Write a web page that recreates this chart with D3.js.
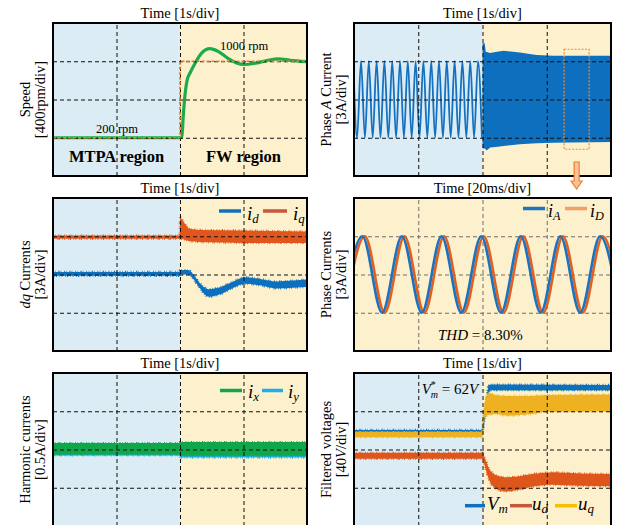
<!DOCTYPE html>
<html>
<head>
<meta charset="utf-8">
<script src="https://cdn.jsdelivr.net/npm/d3@7"></script>
<style>
body { margin: 0; background: #fff; }
svg { display: block; font-family: "Liberation Serif", "Times New Roman", serif; }
</style>
</head>
<body>
<script>
// ---- speed panel (rpm vs s)
const speedT   = [0, 2.0, 2.03, 2.05, 2.08, 2.115, 2.16, 2.24, 2.34, 2.47, 2.60, 2.76, 2.89, 3.02, 3.18, 3.37, 3.55, 3.73, 4.0];
const speedRpm = [200, 200, 204, 416, 657, 812, 880, 982, 1085, 1131, 1103, 1028, 982, 966, 979, 1007, 1024, 1010, 997];
const speedRefT   = [0, 2, 2, 4];
const speedRefRpm = [200, 200, 1000, 1000];

// ---- phase A current: extrema of the slow sinusoid, then the envelope of the fast part
const phaseAT = [-0.012, 0.048, 0.109, 0.170, 0.230, 0.291, 0.352, 0.412, 0.473, 0.534, 0.595, 0.655,
                 0.716, 0.777, 0.837, 0.898, 0.959, 1.019, 1.080, 1.141, 1.202, 1.262, 1.323, 1.384,
                 1.444, 1.505, 1.566, 1.626, 1.687, 1.748, 1.809, 1.869, 1.930, 1.991];
const phaseAV = [3, -3, 3, -3, 3, -3, 3, -3, 3, -3, 3, -3, 3, -3, 3, -3, 3, -3,
                 3, -3, 3, -3, 3, -3, 3, -3, 3, -3, 3, -3, 3, -3, 3, -3];
const phaseBandT  = [2.0, 2.01, 2.035, 2.05, 2.065, 2.12, 2.2, 2.33, 2.58, 2.84, 3.1, 3.36, 4.0];
const phaseBandHi = [4.42, 4.42, 4.42, 3.75, 3.72, 3.64, 3.72, 3.82, 3.69, 3.5, 3.43, 3.43, 3.43];
const phaseBandLo = [-3.8, -3.85, -3.85, -3.9, -4.0, -3.77, -3.72, -3.64, -3.5, -3.43, -3.4, -3.38, -3.33];
const zoomWinT = [3.27, 3.66];
const zoomWinA = [-3.9, 3.94];

// ---- dq currents (A)
const idT  = [0, 1.995, 2.0, 2.13, 2.2, 2.3, 2.45, 2.63, 2.84, 3.02, 3.26, 3.52, 3.78, 4.0];
const idHi = [0.2, 0.2, 0.35, 0.35, 0.05, -0.6, -1.15, -1.0, -0.55, -0.22, -0.35, -0.55, -0.48, -0.4];
const idLo = [-0.1, -0.1, 0.0, 0.0, -0.3, -1.0, -1.75, -1.55, -1.03, -0.72, -0.85, -1.1, -1.03, -0.98];
const iqT  = [0, 1.995, 2.0, 2.06, 2.14, 2.3, 3.0, 4.0];
const iqHi = [3.05, 3.05, 4.55, 4.1, 3.58, 3.5, 3.45, 3.37];
const iqLo = [2.8, 2.8, 2.8, 2.74, 2.62, 2.54, 2.48, 2.48];

// ---- phase currents zoom (ms, A): extrema
const iAT = [-3.6, 2.6, 8.75, 14.9, 21.1, 27.25, 33.4, 39.6, 45.75, 51.9, 58.1, 64.25, 70.4, 76.6, 82.75];
const iDT = [-2.8, 3.4, 9.55, 15.7, 21.9, 28.05, 34.2, 40.4, 46.55, 52.7, 58.9, 65.05, 71.2, 77.4, 83.55];
const iExtV = [-3, 3, -3, 3, -3, 3, -3, 3, -3, 3, -3, 3, -3, 3, -3];

// ---- harmonic currents (A)
const harmT = [0, 1.995, 2.0, 4.0];
const ixHi = [0.085, 0.085, 0.098, 0.098];
const ixLo = [-0.064, -0.064, -0.082, -0.082];
const iyHi = [0.075, 0.075, 0.085, 0.085];
const iyLo = [-0.077, -0.077, -0.105, -0.105];

// ---- filtered voltages (V)
const vmT  = [0, 1.995, 2.0, 2.02, 2.09, 2.12, 4.0];
const vmHi = [20.5, 20.5, 20, 32, 67, 68, 67.5];
const vmLo = [18.5, 18.5, 17, 25, 59, 62, 62];
const uqT  = [0, 1.995, 2.0, 2.01, 2.09, 2.2, 2.38, 2.75, 3.0, 4.0];
const uqHi = [18.2, 18.2, 18.2, 35, 59, 57, 56, 56, 57, 57.5];
const uqLo = [12.8, 12.8, 12.8, 30, 36, 37, 35.3, 37, 39.5, 40];
const udT  = [0, 1.995, 2.0, 2.05, 2.1, 2.2, 2.35, 2.5, 2.8, 3.1, 3.5, 4.0];
const udHi = [-3.4, -3.4, -3.4, -11.5, -19.5, -26.5, -29.1, -28.5, -25.3, -23.9, -25, -25.5];
const udLo = [-9.8, -9.8, -9.8, -21, -31.5, -40.5, -43.8, -43, -38.5, -36.8, -38, -38.5];
const vmRef = 62;

const width = 620, height = 525;
const bgBlue = '#dbecf4', bgYellow = '#fdf0cc';
const svg = d3.select('body').append('svg').attr('width', width).attr('height', height);
let clipN = 0;

function makePanel(p) {
    const g = svg.append('g').attr('transform', `translate(${p.left},${p.top})`);
    const x = d3.scaleLinear().domain(p.xDomain).range([0, p.w]);
    const y = d3.scaleLinear().domain(p.yDomain).range([p.h, 0]);
    if (p.split !== undefined) {
        g.append('rect').attr('width', x(p.split)).attr('height', p.h).attr('fill', bgBlue);
        g.append('rect').attr('x', x(p.split)).attr('width', p.w - x(p.split)).attr('height', p.h).attr('fill', bgYellow);
    } else {
        g.append('rect').attr('width', p.w).attr('height', p.h).attr('fill', bgYellow);
    }
    const id = 'clip' + (clipN++);
    g.append('clipPath').attr('id', id).append('rect').attr('width', p.w).attr('height', p.h);
    const plot = g.append('g').attr('clip-path', `url(#${id})`);

    g.append('text').attr('x', p.w / 2).attr('y', -5.5).attr('text-anchor', 'middle')
        .attr('font-size', 14.5).text(p.title);

    // two-line rotated y label, each line is a list of [text, italic]
    p.ylab.forEach(function(parts, i) {
        const t = g.append('text')
            .attr('transform', `translate(${i === 0 ? -23.5 : -8.5},${p.h / 2}) rotate(-90)`)
            .attr('text-anchor', 'middle').attr('font-size', 14.5);
        parts.forEach(function(pt) {
            t.append('tspan').attr('font-style', pt[1] ? 'italic' : null).text(pt[0]);
        });
    });
    return {g: g, plot: plot, x: x, y: y, p: p};
}

function grid(P, color) {
    const p = P.p;
    const xt = d3.range(p.xDomain[0] + p.xDiv, p.xDomain[1] - 1e-9, p.xDiv);
    const yt = d3.range(p.yDomain[0] + p.yDiv, p.yDomain[1] - 1e-9, p.yDiv);
    const style = function(s) {
        s.select('.domain').remove();
        s.selectAll('line').attr('stroke', color).attr('stroke-width', 1).attr('stroke-dasharray', '4,3');
    };
    P.plot.append('g').attr('transform', `translate(0,${p.h})`)
        .call(d3.axisBottom(P.x).tickValues(xt).tickSize(-p.h).tickFormat('')).call(style);
    P.plot.append('g')
        .call(d3.axisLeft(P.y).tickValues(yt).tickSize(-p.w).tickFormat('')).call(style);
}

function border(P) {
    P.g.append('rect').attr('width', P.p.w).attr('height', P.p.h)
        .attr('fill', 'none').attr('stroke', '#000').attr('stroke-width', 2);
}

// noisy band: filled envelope with a ragged outline of the same colour
function band(P, T, hi, lo, color, curve, ragged) {
    const data = T.map(function(t, i) { return {t: t, hi: hi[i], lo: lo[i]}; });
    const area = d3.area().x(d => P.x(d.t)).y0(d => P.y(d.lo)).y1(d => P.y(d.hi)).curve(curve || d3.curveLinear);
    P.plot.append('path').datum(data).attr('d', area).attr('fill', color);
    if (ragged !== false) {
        P.plot.append('path').datum(data).attr('d', area).attr('fill', 'none')
            .attr('stroke', color).attr('stroke-width', 2.2)
            .attr('stroke-dasharray', '0.8,1.6,0.5,2.4,1.2,1.1,0.6,2.9');
    }
}

function trace(P, T, V, color, w, curve, dash) {
    const data = T.map(function(t, i) { return [t, V[i]]; });
    P.plot.append('path').datum(data)
        .attr('d', d3.line().x(d => P.x(d[0])).y(d => P.y(d[1])).curve(curve || d3.curveLinear))
        .attr('fill', 'none').attr('stroke', color).attr('stroke-width', w)
        .attr('stroke-dasharray', dash || null).attr('stroke-linejoin', 'round');
}

// legend entry: line then italic symbol with subscript
function legend(P, x0, x1, ly, tx, ty, sym, sub, color, fs) {
    P.g.append('line').attr('x1', x0).attr('x2', x1).attr('y1', ly).attr('y2', ly)
        .attr('stroke', color).attr('stroke-width', 3.5);
    const t = P.g.append('text').attr('x', tx).attr('y', ty).attr('font-size', fs).attr('font-style', 'italic');
    t.append('tspan').text(sym);
    t.append('tspan').attr('font-size', fs * 0.68).attr('dy', 3).text(sub);
}

const blue = '#0d6fbd', orange = '#e0561c', green = '#1aab4a';

// ---------- panel 1: speed
const P1 = makePanel({left: 53, top: 23, w: 254, h: 153, xDomain: [0, 4], xDiv: 1, yDomain: [-200, 1400], yDiv: 400,
    split: 2, title: 'Time [1s/div]', ylab: [[['Speed', 0]], [['[400rpm/div]', 0]]]});
trace(P1, speedT, speedRpm, green, 3.2, d3.curveMonotoneX);
grid(P1, '#111');
trace(P1, speedRefT, speedRefRpm, '#f07a1a', 1.6, d3.curveLinear, '3,2');
P1.g.append('text').attr('x', 43).attr('y', 110).attr('font-size', 12.5).text('200 rpm');
P1.g.append('text').attr('x', 167).attr('y', 26.5).attr('font-size', 12.5).text('1000 rpm');
P1.g.append('text').attr('x', P1.x(1)).attr('y', 138.7).attr('text-anchor', 'middle')
    .attr('font-size', 16.5).attr('font-weight', 'bold').text('MTPA region');
P1.g.append('text').attr('x', P1.x(3)).attr('y', 138.7).attr('text-anchor', 'middle')
    .attr('font-size', 16.5).attr('font-weight', 'bold').text('FW region');
border(P1);

// ---------- panel 2: phase A current
const P2 = makePanel({left: 354, top: 23, w: 257, h: 153, xDomain: [0, 4], xDiv: 1, yDomain: [-6, 6], yDiv: 3,
    split: 2, title: 'Time [1s/div]', ylab: [[['Phase ', 0], ['A', 1], [' Current', 0]], [['[3A/div]', 0]]]});
trace(P2, phaseAT, phaseAV, '#1470c0', 1.8, d3.curveMonotoneX);
band(P2, phaseBandT, phaseBandHi, phaseBandLo, blue, d3.curveLinear, false);
grid(P2, '#111');
P2.g.append('rect')
    .attr('x', P2.x(zoomWinT[0])).attr('y', P2.y(zoomWinA[1]))
    .attr('width', P2.x(zoomWinT[1]) - P2.x(zoomWinT[0])).attr('height', P2.y(zoomWinA[0]) - P2.y(zoomWinA[1]))
    .attr('fill', 'none').attr('stroke', '#f08a30').attr('stroke-width', 1.2).attr('stroke-dasharray', '2,1.5');
border(P2);
// arrow pointing to the zoomed panel
const ax = P2.x((zoomWinT[0] + zoomWinT[1]) / 2);
P2.g.append('path')
    .attr('d', `M${ax - 2.5},139 L${ax + 2.5},139 L${ax + 2.5},158 L${ax + 5.5},158 L${ax},166 L${ax - 5.5},158 L${ax - 2.5},158 Z`)
    .attr('fill', '#f9c49c').attr('stroke', '#ee7d2c').attr('stroke-width', 1.2);

// ---------- panel 3: dq currents
const P3 = makePanel({left: 53, top: 198, w: 254, h: 153, xDomain: [0, 4], xDiv: 1, yDomain: [-6, 6], yDiv: 3,
    split: 2, title: 'Time [1s/div]', ylab: [[['dq', 1], [' Currents', 0]], [['[3A/div]', 0]]]});
band(P3, iqT, iqHi, iqLo, orange);
band(P3, idT, idHi, idLo, '#0c70bf', d3.curveMonotoneX);
grid(P3, '#111');
legend(P3, 166, 188, 13, 194, 22, 'i', 'd', '#1170bd', 19);
legend(P3, 210, 234, 13, 240, 22, 'i', 'q', '#c9553a', 19);
border(P3);

// ---------- panel 4: phase currents zoom
const P4 = makePanel({left: 354, top: 198, w: 257, h: 153, xDomain: [0, 80], xDiv: 20, yDomain: [-6, 6], yDiv: 3,
    title: 'Time [20ms/div]', ylab: [[['Phase Currents', 0]], [['[3A/div]', 0]]]});
grid(P4, '#6e6e6e');
trace(P4, iDT, iExtV, '#e35f1e', 2.6, d3.curveMonotoneX);
trace(P4, iAT, iExtV, '#1a72c0', 2.6, d3.curveMonotoneX);
legend(P4, 169, 191, 10.5, 194, 19, 'i', 'A', '#1f73c0', 18);
legend(P4, 211, 233, 10.5, 236, 19, 'i', 'D', '#f3a066', 18);
const thd = P4.g.append('text').attr('x', 84).attr('y', 142).attr('font-size', 15);
thd.append('tspan').attr('font-style', 'italic').text('THD');
thd.append('tspan').text(' = 8.30%');
border(P4);

// ---------- panel 5: harmonic currents
const P5 = makePanel({left: 53, top: 373, w: 254, h: 153, xDomain: [0, 4], xDiv: 1, yDomain: [-1, 1], yDiv: 0.5,
    split: 2, title: 'Time [1s/div]', ylab: [[['Harmonic currents', 0]], [['[0.5A/div]', 0]]]});
band(P5, harmT, iyHi, iyLo, '#1cb0ea');
band(P5, harmT, ixHi, ixLo, '#10a64a');
grid(P5, '#111');
legend(P5, 167, 189, 17.5, 195, 25, 'i', 'x', '#10a64a', 19);
legend(P5, 209, 230, 17.5, 235, 25, 'i', 'y', '#1cb0ea', 19);
border(P5);

// ---------- panel 6: filtered voltages
const P6 = makePanel({left: 354, top: 373, w: 257, h: 153, xDomain: [0, 4], xDiv: 1, yDomain: [-80, 80], yDiv: 40,
    split: 2, title: 'Time [1s/div]', ylab: [[['Filtered voltages', 0]], [['[40', 0], ['V', 1], ['/div]', 0]]]});
trace(P6, [2, 4], [vmRef, vmRef], '#9bd45a', 1, d3.curveLinear, '2,1.5');
band(P6, vmT, vmHi, vmLo, '#0c70bf');
band(P6, udT, udHi, udLo, '#df561b', d3.curveMonotoneX);
band(P6, uqT, uqHi, uqLo, '#edb121', d3.curveMonotoneX);
grid(P6, '#111');
const vr = P6.g.append('text').attr('x', 67.7).attr('y', 21).attr('font-size', 15);
vr.append('tspan').attr('font-style', 'italic').text('V');
vr.append('tspan').attr('font-size', 10).attr('dy', -6).text('*');
vr.append('tspan').attr('font-size', 10).attr('font-style', 'italic').attr('dx', -5).attr('dy', 10).text('m');
vr.append('tspan').attr('dy', -4).text(' = 62');
vr.append('tspan').attr('font-style', 'italic').text('V');
legend(P6, 111, 131, 132.7, 133, 137, 'V', 'm', '#1170bd', 19);
legend(P6, 156, 178, 132.7, 178, 137, 'u', 'd', '#c9553a', 19);
legend(P6, 201, 223, 132.7, 224, 137, 'u', 'q', '#f4c000', 19);
border(P6);
</script>
</body>
</html>
